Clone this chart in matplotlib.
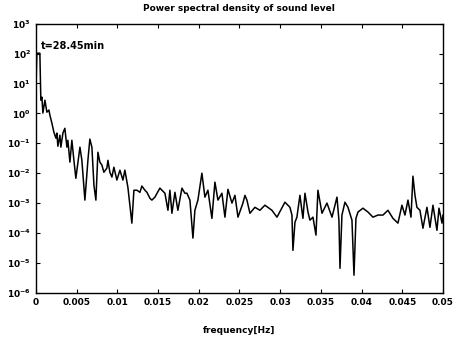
import matplotlib
matplotlib.use('Agg')
import matplotlib.pyplot as plt
import matplotlib.ticker as mticker
import numpy as np

# spectrum: frequency [Hz] and log10 of the PSD
freq = [0.0, 0.00012, 0.00049, 0.00061, 0.00074, 0.00086, 0.00111, 0.00135,
        0.00160, 0.00172, 0.00197, 0.00221, 0.00246, 0.00258, 0.00270, 0.00295,
        0.00307, 0.00332, 0.00356, 0.00381, 0.00393, 0.00418, 0.00442, 0.00467,
        0.00491, 0.00541, 0.00565, 0.00602, 0.00639, 0.00663, 0.00688, 0.00713,
        0.00737, 0.00762, 0.00786, 0.00811, 0.00835, 0.00872, 0.00885, 0.00909,
        0.00934, 0.00958, 0.00995, 0.01032, 0.01069, 0.01093, 0.01130, 0.01155,
        0.01179, 0.01204, 0.01241, 0.01278, 0.01302, 0.01339, 0.01364, 0.01401,
        0.01425, 0.01462, 0.01523, 0.01560, 0.01585, 0.01622, 0.01646, 0.01671,
        0.01708, 0.01744, 0.01794, 0.01830, 0.01855, 0.01892, 0.01929, 0.01953,
        0.01990, 0.02039, 0.02076, 0.02113, 0.02162, 0.02199, 0.02236, 0.02285,
        0.02322, 0.02359, 0.02408, 0.02445, 0.02482, 0.02543, 0.02568, 0.02592,
        0.02629, 0.02690, 0.02752, 0.02813, 0.02899, 0.02961, 0.03059, 0.03120,
        0.03145, 0.03157, 0.03182, 0.03206, 0.03243, 0.03280, 0.03305, 0.03342,
        0.03366, 0.03403, 0.03440, 0.03464, 0.03514, 0.03575, 0.03637, 0.03698,
        0.03722, 0.03735, 0.03759, 0.03796, 0.03833, 0.03882, 0.03907, 0.03931,
        0.03956, 0.04017, 0.04079, 0.04140, 0.04201, 0.04263, 0.04324, 0.04386,
        0.04447, 0.04496, 0.04533, 0.04570, 0.04607, 0.04631, 0.04656, 0.04680,
        0.04717, 0.04754, 0.04803, 0.04840, 0.04877, 0.04926, 0.04951, 0.04988,
        0.05000]
log_psd = [0.78, 2.01, 2.01, 0.44, 0.54, 0.01, 0.44, 0.04,
           0.11, -0.06, -0.33, -0.63, -0.83, -0.66, -1.10, -0.73,
           -1.13, -0.66, -0.50, -1.13, -0.90, -1.63, -0.90, -1.57,
           -2.17, -1.13, -1.57, -2.90, -1.57, -0.86, -1.13, -2.40,
           -2.90, -1.30, -1.63, -1.73, -1.97, -1.83, -1.57, -1.97,
           -2.13, -1.80, -2.23, -1.90, -2.23, -1.90, -2.47, -3.07,
           -3.67, -2.57, -2.57, -2.64, -2.43, -2.57, -2.64, -2.84,
           -2.90, -2.80, -2.50, -2.60, -2.67, -3.24, -2.57, -3.34,
           -2.64, -3.24, -2.50, -2.67, -2.67, -2.90, -4.17, -3.24,
           -2.90, -2.00, -2.80, -2.57, -3.51, -2.30, -2.90, -2.67,
           -3.47, -2.54, -3.00, -2.74, -3.47, -3.00, -2.74, -2.90,
           -3.34, -3.14, -3.24, -3.07, -3.24, -3.47, -2.97, -3.14,
           -3.40, -4.58, -3.64, -3.47, -2.74, -3.51, -2.67, -3.30,
           -3.57, -3.47, -4.07, -2.57, -3.34, -3.00, -3.47, -2.80,
           -3.57, -5.18, -3.40, -2.97, -3.14, -3.57, -5.41, -3.51,
           -3.30, -3.17, -3.30, -3.47, -3.40, -3.40, -3.24, -3.51,
           -3.67, -3.07, -3.40, -2.90, -3.47, -2.10, -2.74, -3.14,
           -3.24, -3.84, -3.14, -3.81, -3.07, -3.91, -3.17, -3.67,
           -3.40]

xticks = [0, 0.005, 0.01, 0.015, 0.02, 0.025, 0.03, 0.035, 0.04, 0.045, 0.05]
xlabels = ['0', '0.005', '0.01', '0.015', '0.02', '0.025', '0.03', '0.035',
           '0.04', '0.045', '0.05']

plt.rcParams['font.family'] = 'DejaVu Sans'
plt.rcParams['font.weight'] = 'bold'

fig = plt.figure(figsize=(4.6, 3.37), dpi=100)
ax = fig.add_axes([0.078, 0.131, 0.885, 0.799])

ax.semilogy(freq, 10.0 ** np.array(log_psd), color='black', lw=1.1)

ax.set_xlim(0, 0.05)
ax.set_ylim(1e-6, 1e3)
ax.set_xticks(xticks)
ax.xaxis.set_major_formatter(mticker.FixedFormatter(xlabels))
ax.yaxis.set_major_locator(mticker.LogLocator(base=10, numticks=12))
ax.yaxis.set_minor_locator(mticker.NullLocator())
ax.tick_params(direction='in', length=3, width=0.8, labelsize=6.5,
               top=True, right=True)
for sp in ax.spines.values():
    sp.set_linewidth(1.0)

ax.set_title('Power spectral density of sound level', fontsize=6.5,
             fontweight='bold', pad=9)
ax.set_xlabel('frequency[Hz]', fontsize=6.5, fontweight='bold', labelpad=14)
ax.text(0.012, 0.915, 't=28.45min', transform=ax.transAxes, fontsize=7,
        fontweight='bold', va='center')

fig.savefig('out.png', dpi=100)
